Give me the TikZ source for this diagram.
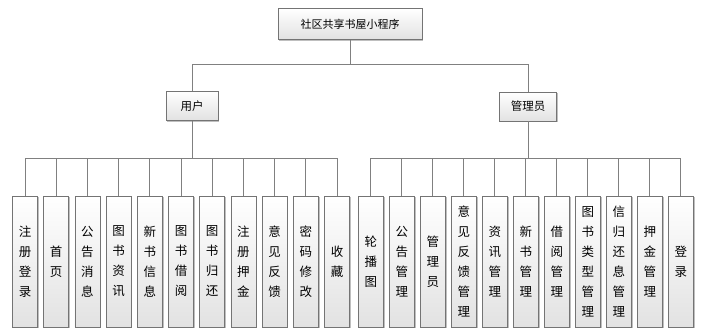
\documentclass[tikz,border=0pt]{standalone}
\usepackage{fontspec}
\setmainfont{Noto Sans CJK SC}
\usetikzlibrary{positioning,shadows}
\definecolor{cbLine}{HTML}{808080}
\definecolor{cbEdge}{HTML}{747474}
\definecolor{cbShade}{HTML}{E2E2E2}
\tikzset{
    cbBoxBase/.style={
        rectangle,
        draw=cbEdge,
        line width=0.8pt,
        top color=white,
        bottom color=cbShade,
        inner sep=0pt,
        align=center,
        drop shadow={shadow xshift=1.2pt, shadow yshift=-1.2pt, fill=black, opacity=0.25}
    },
    % Node variants
    cbRoot/.style={cbBoxBase, minimum width=144pt, minimum height=31pt, font=\fontsize{11}{13}\selectfont},
    cbRole/.style={cbBoxBase, minimum height=29pt, font=\fontsize{11.5}{13}\selectfont},
    cbLeaf/.style={cbBoxBase, minimum width=25pt, minimum height=131pt, font=\fontsize{12.5}{20}\selectfont},
    % Connectors
    cbConn/.style={draw=cbLine, line width=0.8pt}
}

\begin{document}
\begin{tikzpicture}[x=1pt, y=-1pt]
\useasboundingbox (0,0) rectangle (707,336);
\node[cbRoot] (root) at (350,24) {社区共享书屋小程序};
\node[cbRole, minimum width=52pt] (user) at (192,106) {用户};
\node[cbRole, minimum width=57pt] (admin) at (528,106.5) {管理员};
\coordinate (rootBar) at (350,64);
\coordinate (userBar) at (192,158);
\coordinate (adminBar) at (528,158.5);
\draw[cbConn] (root.south) -- (rootBar) -| (user.north);
\draw[cbConn] (rootBar) -| (admin.north);
% user functions
\foreach \lbl [count=\i from 0] in {{注\\册\\登\\录},{首\\页},{公\\告\\消\\息},{图\\书\\资\\讯},{新\\书\\信\\息},{图\\书\\借\\阅},{图\\书\\归\\还},{注\\册\\押\\金},{意\\见\\反\\馈},{密\\码\\修\\改},{收\\藏}}{
    \node[cbLeaf] (u\i) at (25+31.2*\i,261.5) {\lbl};
    \draw[cbConn] (user.south) -- (userBar) -| (u\i.north);
}
% admin functions
\foreach \lbl [count=\i from 0] in {{轮\\播\\图},{公\\告\\管\\理},{管\\理\\员},{意\\见\\反\\馈\\管\\理},{资\\讯\\管\\理},{新\\书\\管\\理},{借\\阅\\管\\理},{图\\书\\类\\型\\管\\理},{信\\归\\还\\息\\管\\理},{押\\金\\管\\理},{登\\录}}{
    \node[cbLeaf] (a\i) at (370.8+31*\i,261.5) {\lbl};
    \draw[cbConn] (admin.south) -- (adminBar) -| (a\i.north);
}
\end{tikzpicture}
\end{document}
